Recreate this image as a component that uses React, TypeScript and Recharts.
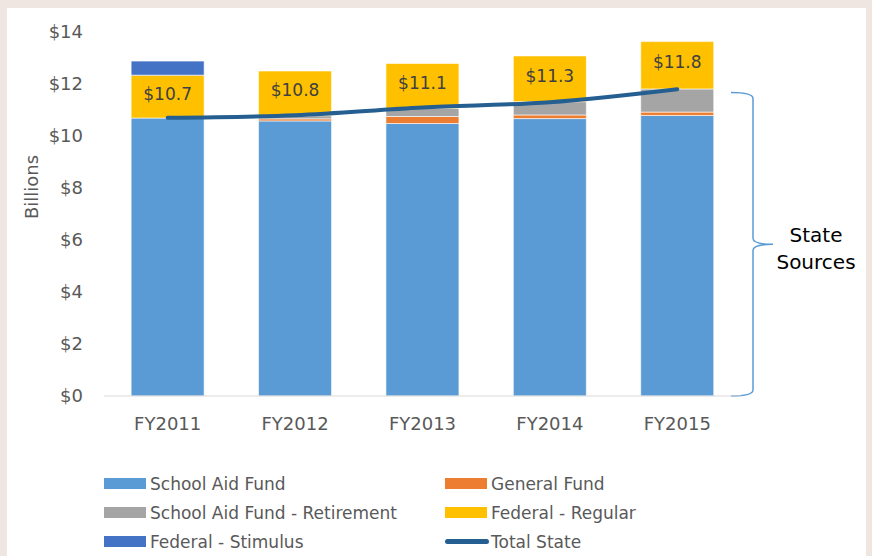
import React from 'react';
import {
  ComposedChart,
  Bar,
  Line,
  XAxis,
  YAxis,
  Legend,
  LabelList,
  ReferenceArea,
} from 'recharts';

const years = ['FY2011', 'FY2012', 'FY2013', 'FY2014', 'FY2015'];
const schoolAidFund = [10.69, 10.58, 10.48, 10.67, 10.79];
const generalFund = [0, 0.08, 0.27, 0.14, 0.13];
const retirement = [0, 0.12, 0.31, 0.51, 0.89];
const federalRegular = [1.65, 1.72, 1.73, 1.76, 1.82];
const federalStimulus = [0.54, 0, 0, 0, 0];
const totalState = [10.7, 10.8, 11.1, 11.3, 11.8];
const yTicks = [0, 2, 4, 6, 8, 10, 12, 14];

const FONT = '"DejaVu Sans", Verdana, sans-serif';
const TEXT = '#595959';

const series = [
  { key: 'schoolAid', name: 'School Aid Fund', color: '#5b9bd5' },
  { key: 'general', name: 'General Fund', color: '#ed7d31' },
  { key: 'retirement', name: 'School Aid Fund - Retirement', color: '#a5a5a5' },
  { key: 'fedRegular', name: 'Federal - Regular', color: '#ffc000' },
  { key: 'fedStimulus', name: 'Federal - Stimulus', color: '#4472c4' },
];
const lineColor = '#255e91';

const data = years.map((year, i) => ({
  year,
  schoolAid: schoolAidFund[i],
  general: generalFund[i],
  retirement: retirement[i],
  fedRegular: federalRegular[i],
  fedStimulus: federalStimulus[i],
  total: totalState[i],
}));

// legend: two columns, last item is the line
const legendItems = [
  ...series.map((s) => ({ name: s.name, color: s.color, line: false })),
  { name: 'Total State', color: lineColor, line: true },
];

function ChartLegend() {
  return (
    <div
      style={{
        display: 'grid',
        gridTemplateColumns: '341px 300px',
        gridAutoRows: '29px',
        fontFamily: FONT,
        fontSize: 17,
        color: TEXT,
      }}
    >
      {legendItems.map((item) => (
        <div key={item.name} style={{ display: 'flex', alignItems: 'center' }}>
          {item.line ? (
            <span
              style={{
                width: 44,
                height: 5,
                borderRadius: 3,
                background: item.color,
                marginRight: 2,
              }}
            />
          ) : (
            <span style={{ width: 42, height: 11, background: item.color, marginRight: 4 }} />
          )}
          <span style={{ whiteSpace: 'nowrap' }}>{item.name}</span>
        </div>
      ))}
    </div>
  );
}

// curly brace marking the state sources, drawn right of the plot
function Brace(props: any) {
  const { x, y, width, height } = props;
  const right = x + width;
  const x0 = right - 10;
  const xv = right + 12;
  const xt = right + 32;
  const top = y;
  const bottom = y + height;
  const mid = (top + bottom) / 2;
  const r = 6;
  const d = [
    `M ${x0} ${top}`,
    `Q ${xv} ${top} ${xv} ${top + r}`,
    `L ${xv} ${mid - r}`,
    `Q ${xv} ${mid} ${xt} ${mid}`,
    `Q ${xv} ${mid} ${xv} ${mid + r}`,
    `L ${xv} ${bottom - r}`,
    `Q ${xv} ${bottom} ${x0} ${bottom}`,
  ].join(' ');
  return (
    <g>
      <path d={d} fill="none" stroke="#5b9bd5" strokeWidth={1.5} />
      <text
        x={right + 75}
        y={mid - 2}
        textAnchor="middle"
        fontFamily={FONT}
        fontSize={20}
        fill="#000"
      >
        State
      </text>
      <text
        x={right + 75}
        y={mid + 25}
        textAnchor="middle"
        fontFamily={FONT}
        fontSize={20}
        fill="#000"
      >
        Sources
      </text>
    </g>
  );
}

export default function App() {
  return (
    <div
      style={{
        position: 'absolute',
        left: 0,
        top: 0,
        width: 872,
        height: 556,
        background: '#efe5e1',
      }}
    >
      <div style={{ position: 'absolute', left: 7, top: 8, width: 859, height: 548, background: '#fff' }}>
        <ComposedChart
          width={859}
          height={548}
          data={data}
          margin={{ top: 24, right: 125, left: 37, bottom: 120 }}
          barCategoryGap="21.3%"
        >
          <XAxis
            dataKey="year"
            height={40}
            tickLine={false}
            tickSize={0}
            tickMargin={21}
            axisLine={{ stroke: '#d9d9d9' }}
            tick={{ fill: TEXT, fontSize: 18, fontFamily: FONT }}
          />
          <YAxis
            width={60}
            domain={[0, 14]}
            ticks={yTicks}
            interval={0}
            axisLine={false}
            tickLine={false}
            tickSize={0}
            tickMargin={21}
            tickFormatter={(v: number) => `$${v}`}
            tick={{ fill: TEXT, fontSize: 18, fontFamily: FONT }}
            label={{
              value: 'Billions',
              angle: -90,
              position: 'center',
              dx: -42,
              dy: -27,
              fill: TEXT,
              fontSize: 18,
              fontFamily: FONT,
            }}
          />
          <ReferenceArea y1={0} y2={11.67} shape={<Brace />} />
          {series.map((s) => (
            <Bar
              key={s.key}
              dataKey={s.key}
              name={s.name}
              stackId="funds"
              fill={s.color}
              stroke="#ffffff"
              strokeWidth={0.6}
              isAnimationActive={false}
            >
              {s.key === 'fedRegular' && (
                <LabelList
                  dataKey="total"
                  position="center"
                  formatter={(v: any) => `$${Number(v).toFixed(1)}`}
                  fill="#404040"
                  fontSize={17}
                  fontFamily={FONT}
                  dy={-3}
                />
              )}
            </Bar>
          ))}
          <Line
            type="monotone"
            dataKey="total"
            name="Total State"
            stroke={lineColor}
            strokeWidth={4}
            strokeLinecap="round"
            dot={false}
            activeDot={false}
            isAnimationActive={false}
          />
          <Legend
            layout="horizontal"
            verticalAlign="middle"
            align="center"
            wrapperStyle={{ left: 97, top: 461, width: 660 }}
            content={() => <ChartLegend />}
          />
        </ComposedChart>
      </div>
    </div>
  );
}
